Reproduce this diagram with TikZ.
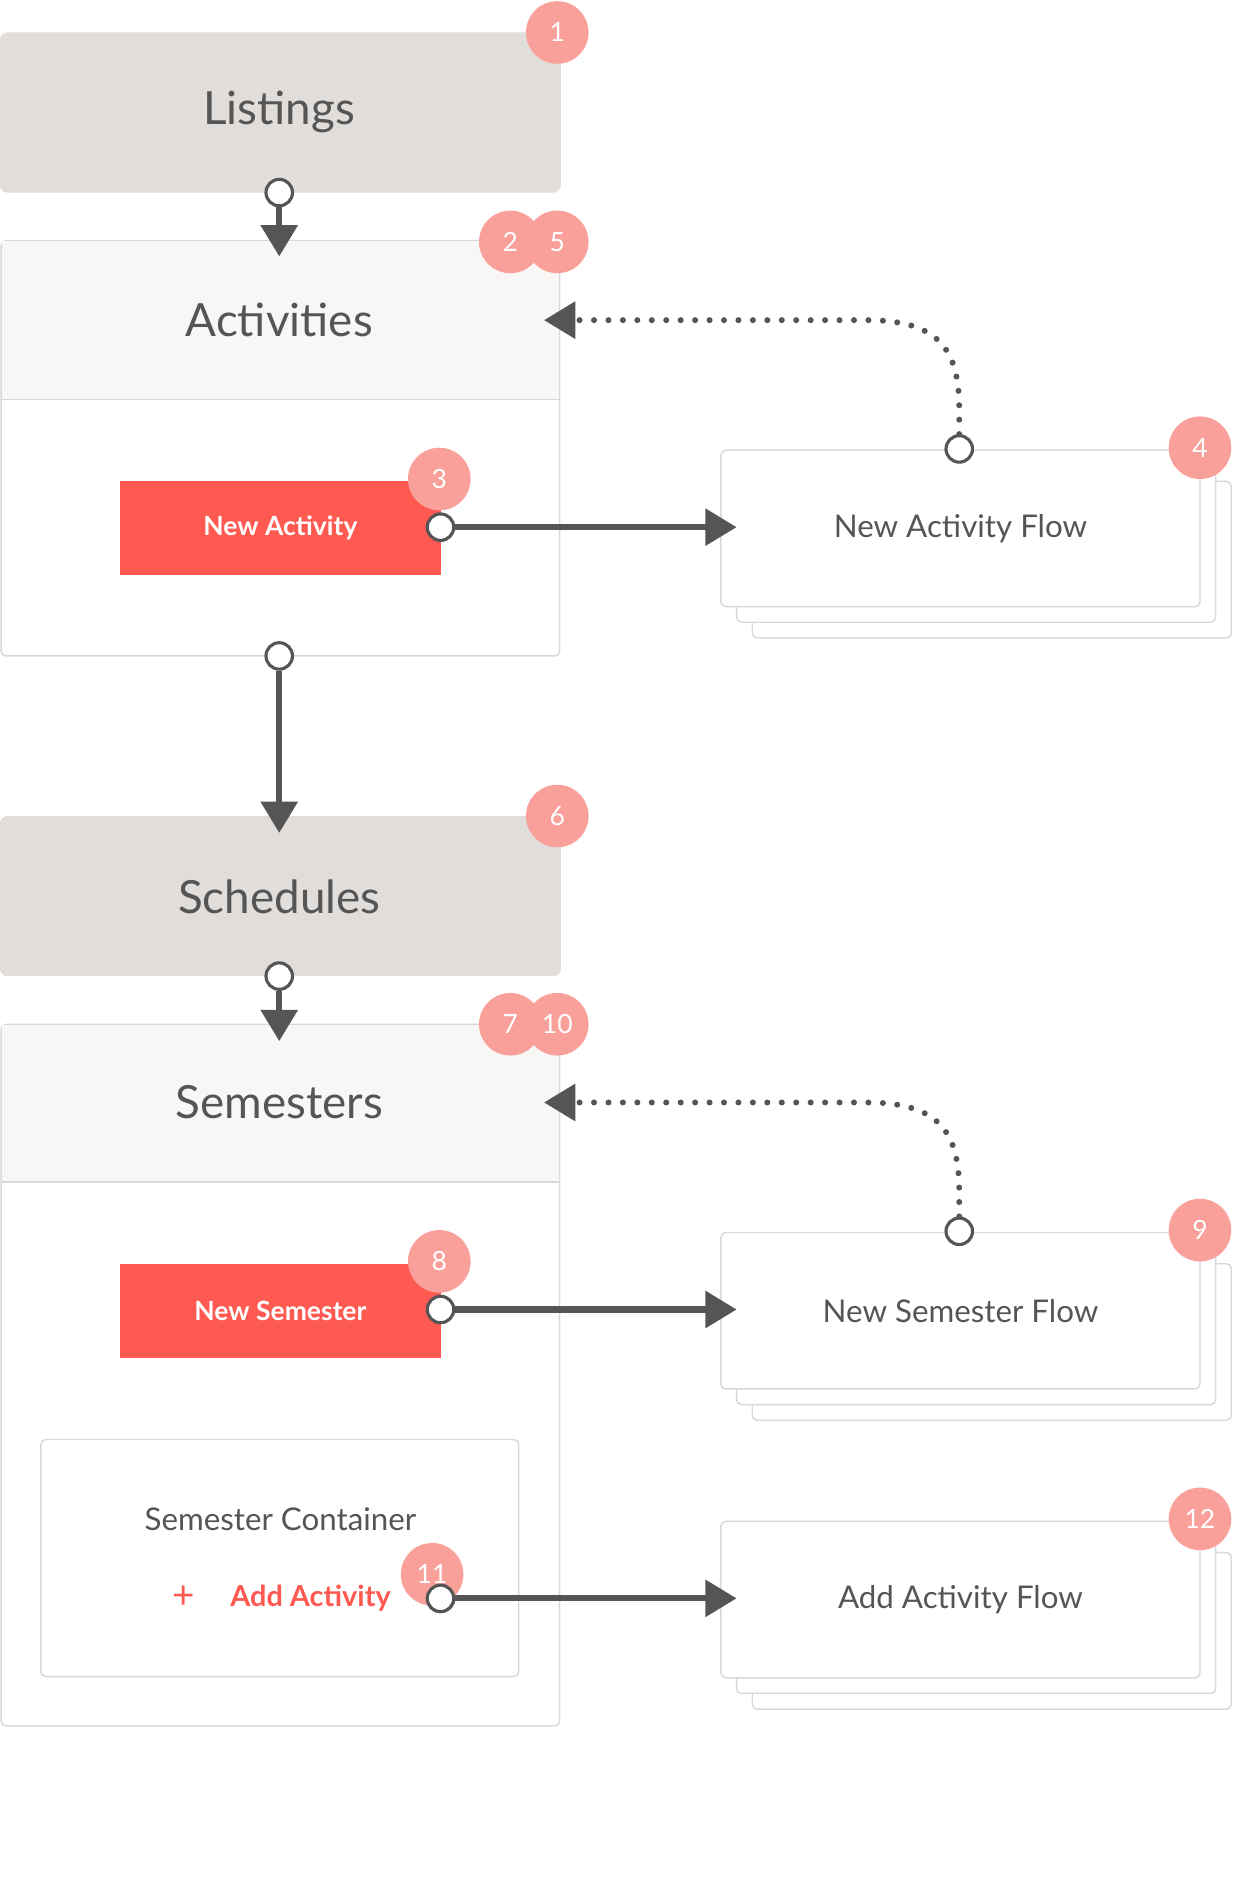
\documentclass[tikz,border=0pt]{standalone}
\usepackage{fontspec}
\setmainfont{Lato}
\usetikzlibrary{arrows.meta}
\definecolor{tgray}{HTML}{555555}
\definecolor{lgray}{HTML}{E0DDDA}
\definecolor{hdr}{HTML}{F8F7F5}
\definecolor{bord}{HTML}{D8D8D8}
\definecolor{redb}{HTML}{FF5A52}
\definecolor{badgec}{HTML}{F9A09A}
\definecolor{conn}{HTML}{555555}
\tikzset{
 big/.style={font=\fontsize{19}{22}\selectfont, text=tgray},
 badge/.style={circle, fill=badgec, minimum size=26pt, inner sep=0pt, text=white, font=\fontsize{11}{12}\selectfont},
 port/.style={circle, draw=conn, line width=1.3pt, fill=white, minimum size=11pt, inner sep=0pt},
 link/.style={draw=conn, line width=2.5pt, -{Triangle[width=15pt,length=13pt]}},
 dlink/.style={draw=conn, line width=2.5pt, dash pattern=on 0pt off 6pt, line cap=round, -{Triangle[width=15pt,length=13pt]}},
 card/.style={draw=bord, line width=0.6pt, fill=white, rounded corners=2pt},
 flowtxt/.style={font=\fontsize{13}{15}\selectfont, text=tgray},
 btn/.style={fill=redb, text=white, font=\bfseries\fontsize{11}{13}\selectfont}
}
\begin{document}
\begin{tikzpicture}[x=0.5pt,y=-0.5pt]
\useasboundingbox[fill=white] (0,0) rectangle (1024,1567);
% Listings
\fill[lgray, rounded corners=3pt] (0,27) rectangle (466,160);
\node[big] (listings) at (232,93) {Listings};
% Activities
\draw[card] (1,200) rectangle (465,545);
\fill[hdr] (1.5,200.5) rectangle (464.5,332);
\draw[bord, line width=0.6pt] (1,332) -- (465,332);
\node[big] (activities) at (232,266) {Activities};
\fill[redb] (100,400) rectangle (366,478);
\node[btn] (newact) at (233,439) {New Activity};
% Flow stack macro-like
\foreach \y/\h in {374/130, 1024/130, 1264/130}{
 \draw[card] (625,\y+26) rectangle (1023,\y+26+\h);
 \draw[card] (612,\y+13) rectangle (1010,\y+13+\h);
 \draw[card] (599,\y) rectangle (997,\y+\h);
}
\node[flowtxt] (naf) at (798,439) {New Activity Flow};
\node[flowtxt] (nsf) at (798,1089) {New Semester Flow};
\node[flowtxt] (aaf) at (798,1329) {Add Activity Flow};
% Schedules
\fill[lgray, rounded corners=3pt] (0,678) rectangle (466,811);
\node[big] (schedules) at (232,745) {Schedules};
% Semesters
\draw[card] (1,851) rectangle (465,1434);
\fill[hdr] (1.5,851.5) rectangle (464.5,982);
\draw[bord, line width=0.6pt] (1,982) -- (465,982);
\node[big] (semesters) at (232,916) {Semesters};
\fill[redb] (100,1050) rectangle (366,1128);
\node[btn] (newsem) at (233,1089) {New Semester};
\draw[card] (34,1196) rectangle (431,1393);
\node[flowtxt] (semcont) at (233,1262) {Semester Container};
\node[font=\fontsize{16}{16}\selectfont, text=redb] (plus) at (153,1327) {+};
\node[font=\bfseries\fontsize{12}{14}\selectfont, text=redb] (addact) at (258,1328) {Add Activity};
% connectors
\coordinate (a1) at (232,213);
\coordinate (a2) at (612,438);
\coordinate (a3) at (232,692);
\coordinate (a4) at (232,865);
\coordinate (a5) at (612,1088);
\coordinate (a6) at (612,1328);
\coordinate (d1) at (452,266);
\coordinate (d2) at (452,916);
\node[port] (p1) at (232,160) {};
\node[port] (p2) at (366,438) {};
\node[port] (p3) at (797,373) {};
\node[port] (p4) at (232,545) {};
\node[port] (p5) at (232,811) {};
\node[port] (p6) at (366,1088) {};
\node[port] (p7) at (797,1023) {};
\node[port] (p8) at (366,1328) {};
\draw[link] (p1) -- (a1);
\draw[link] (p2) -- (a2);
\draw[link] (p4) -- (a3);
\draw[link] (p5) -- (a4);
\draw[link] (p6) -- (a5);
\draw[link] (p8) -- (a6);
\draw[dlink] (p3) -- (797,340) .. controls (797,290) and (780,266) .. (720,266) -- (d1);
\draw[dlink] (p7) -- (797,990) .. controls (797,940) and (780,916) .. (720,916) -- (d2);
% badges
\node[badge] (b1) at (463,27) {1};
\node[badge] (b2) at (424,201) {2};
\node[badge] (b5) at (463,201) {5};
\node[badge] (b3) at (365,398) {3};
\node[badge] (b4) at (997,372) {4};
\node[badge] (b6) at (463,678) {6};
\node[badge] (b7) at (424,851) {7};
\node[badge] (b10) at (463,851) {10};
\node[badge] (b8) at (365,1048) {8};
\node[badge] (b9) at (997,1022) {9};
\node[badge] (b11) at (359,1308) {11};
\node[badge] (b12) at (997,1262) {12};
\node[port] at (366,1328) {};
\end{tikzpicture}
\end{document}
